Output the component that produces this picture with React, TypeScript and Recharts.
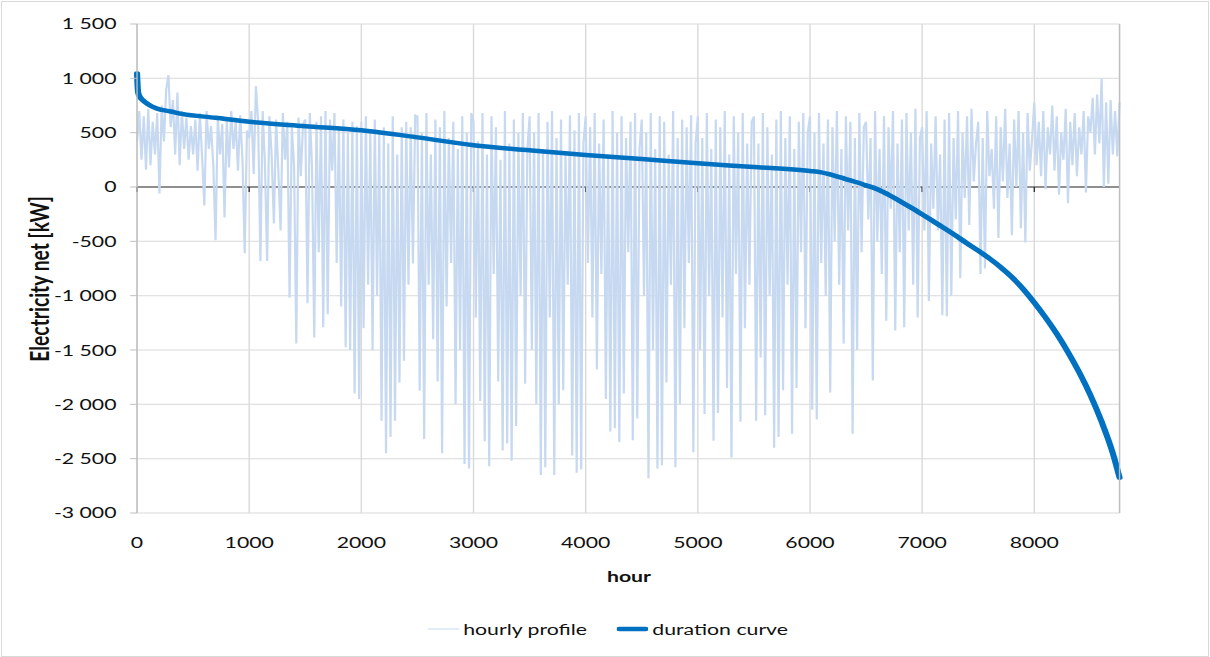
import React from 'react'
import { LineChart, Line, XAxis, YAxis, CartesianGrid, ReferenceLine } from 'recharts'

// the reference is an Excel export stretched sideways, so the chart is drawn narrow and scaled in x
const OUT_W = 1210
const OUT_H = 657
const CHART_W = 883
const STRETCH = OUT_W / CHART_W

const hourStep = 20
const hourMax = 8760

// hourly net electricity, one reading every 20 h
const hourlyProfile = [
  420, 700, 250, 650, 160, 720, 200, 600, 300, 680, -60, 750, 420, 900, 1030, 550, 800, 300, 870, 200, 700, 350, 640, 250, 560,
  300, 620, 150, 680, 280, -170, 700, 350, 560, 200, -490, 640, 300, 580, -280, 620, 180, 700, 350, 600, 150, 660, 250, -610, 520,
  450, 700, 120, 930, 600, -680, 700, 220, -680, 650, 300, -335, 620, 150, -400, 680, 250, 600, -1020, 550, 200, -1440, 640, 100, 580,
  620, -1070, 680, 200, -1385, 600, -600, 650, -1290, 700, -1170, 620, 150, 680, -700, 560, -1100, 620, -1475, 500, -1500, 600, -1900, 560, -1950,
  600, -1300, 650, -900, 500, -1500, 620, -1000, 500, -2150, 550, -2450, 400, -2300, 650, -2150, 300, -1800, 550, -1600, 600, -900, 550, -705, 660,
  650, -1875, 500, -2320, 680, -900, 300, -1400, 620, -1790, 550, -2450, 700, -1100, 450, -700, 600, -2000, 350, -1500, 650, -2550, 500, -2590, 680,
  600, -1200, 420, -1970, 680, -2340, 300, -2570, 650, -800, 550, -1790, 250, -2425, 700, -2360, 400, -2520, 620, -2200, 500, -1000, 680, -1810, 350,
  650, -1500, 500, -2000, 680, -2650, 350, -2580, 600, -1200, 700, -2650, 450, -2000, 620, -1870, 300, -900, 660, -2470, 520, -2630, 680, -2600, 400,
  650, -700, 550, -1200, 680, -1680, 400, -800, 620, -1950, 300, -2250, 700, -2220, 500, -2350, 650, -1900, 450, -600, 600, -2330, 680, -2130, 350,
  620, -1000, 500, -2680, 680, -1500, 350, -2590, 650, -2560, 600, -1800, 300, -900, 700, -2580, 450, -2000, 620, -1300, 550, -700, 660, -2440, 400,
  650, -1500, 450, -2090, 680, -1000, 350, -2335, 620, -2080, 550, -1200, 700, -1850, 300, -2490, 650, -800, 500, -2160, 680, -1300, 400, -900, 600,
  650, -2150, 400, -1570, 680, -2100, 550, -1000, 300, -2400, 620, -2300, 700, -1870, 450, -900, 650, -2270, 350, -1850, 600, -600, 680, -1300, 500,
  650, -2050, 500, -2140, 680, -700, 400, -1000, 620, -1890, 550, -500, 700, -900, 350, -1440, 650, -400, 600, -2270, 450, -1500, 680, -600, 550,
  600, -300, 450, -1780, 700, -500, 350, -800, 650, -1230, 550, -200, 700, -1320, 400, -600, 620, -1290, 680, -400, 500, -900, 720, -1200, 450,
  550, -400, 700, -1050, 400, -200, 650, -400, 300, -1180, 620, -1190, 680, -1000, 450, -300, 700, -840, 500, -100, 650, -350, 720, 50, 400,
  600, -800, 450, -750, 700, 100, 350, -200, 650, -470, 550, 50, 720, -100, 400, -445, 620, 0, 700, -380, 500, -510, 680, 150, 450,
  780, 200, 600, 100, 700, -20, 550, 300, 750, 150, 650, -70, 500, 250, 720, -150, 600, 200, 680, 100, 550, 300, 700, -50, 650,
  500, 820, 300, 850, 400, 1000, 0, 780, 30, 800, 300, 700, 280, 780,
]

// sorted (duration) curve
const durationHours = [
  0, 5, 10, 25, 50, 100, 175, 300, 400, 700, 1000, 1500, 2000, 2500, 3000, 3500, 4000, 4500, 5000, 5500,
  6000, 6100, 6200, 6300, 6400, 6500, 6600, 6700, 6800, 6900, 7000, 7100, 7200, 7300, 7400, 7500, 7600,
  7700, 7800, 7900, 8000, 8100, 8200, 8300, 8400, 8500, 8600, 8700, 8760,
]
const durationValues = [
  1045, 930, 870, 830, 800, 760, 722, 695, 673, 637, 600, 560, 522, 457, 384, 338, 295, 258, 218, 184,
  147, 135, 110, 80, 48, 15, -20, -71, -128, -189, -252, -316, -381, -448, -518, -586, -658,
  -738, -830, -938, -1063, -1201, -1351, -1519, -1705, -1915, -2160, -2450, -2675,
]

const xTicks = [0, 1000, 2000, 3000, 4000, 5000, 6000, 7000, 8000]
const yTicks = [-3000, -2500, -2000, -1500, -1000, -500, 0, 500, 1000, 1500]

const hourlyData = hourlyProfile.map((v, i) => ({ h: i * hourStep, v }))
const durationData = durationHours.map((h, i) => ({ h, v: durationValues[i] }))

const FONT = 'Lato, "Open Sans", sans-serif'
const LIGHT = '#c6d9f1'
const DARK = '#0070c0'

const fmtY = (v: number) => {
  const a = Math.abs(v)
  const s = a >= 1000 ? `${Math.floor(a / 1000)} ${String(a % 1000).padStart(3, '0')}` : String(a)
  return v < 0 ? `-${s}` : s
}

// zero line with the small category ticks hanging under it, like Excel draws the crossing axis
const ZeroLine = (p: any) => {
  const { x1, x2, y1 } = p
  return (
    <g>
      <line x1={x1} y1={y1} x2={x2} y2={y1} stroke="#333" strokeWidth={1} />
      {xTicks.map(t => {
        const x = x1 + ((x2 - x1) * t) / hourMax
        return <line key={t} x1={x} x2={x} y1={y1} y2={y1 + 5} stroke="#333" strokeWidth={1} />
      })}
    </g>
  )
}

const tickStyle = { fontSize: 15.5, fill: '#111', fontFamily: FONT }

export default function App() {
  return (
    <div style={{ position: 'absolute', left: 0, top: 0, width: OUT_W, height: OUT_H, background: '#fff', overflow: 'hidden' }}>
      <div style={{ position: 'absolute', left: 1, top: 1, width: OUT_W - 4, height: OUT_H - 3, border: '1px solid #d9d9d9' }} />
      <div
        style={{
          position: 'absolute',
          left: 0,
          top: 0,
          width: CHART_W,
          height: OUT_H,
          transform: `scaleX(${STRETCH})`,
          transformOrigin: '0 0',
          fontFamily: FONT,
        }}
      >
        <LineChart width={CHART_W} height={OUT_H} margin={{ top: 24, right: 0, bottom: 0, left: 0 }}>
          <CartesianGrid yAxisId="left" stroke="#d9d9d9" strokeWidth={1} />
          <XAxis
            dataKey="h"
            type="number"
            domain={[0, hourMax]}
            ticks={xTicks}
            height={144}
            axisLine={false}
            tickLine={false}
            tickSize={0}
            tickMargin={24}
            tick={tickStyle}
            allowDuplicatedCategory={false}
          />
          <YAxis
            yAxisId="left"
            domain={[-3000, 1500]}
            ticks={yTicks}
            width={100}
            tickFormatter={fmtY}
            tick={tickStyle}
            tickSize={5}
            tickMargin={10}
            axisLine={{ stroke: '#bfbfbf' }}
            tickLine={{ stroke: '#bfbfbf' }}
          />
          <YAxis
            yAxisId="right"
            orientation="right"
            domain={[-3000, 1500]}
            ticks={yTicks}
            width={66}
            tickFormatter={fmtY}
            tick={{ ...tickStyle, textAnchor: 'start' }}
            tickSize={5}
            tickMargin={11}
            axisLine={{ stroke: '#bfbfbf' }}
            tickLine={{ stroke: '#bfbfbf' }}
          />
          <ReferenceLine yAxisId="left" y={0} shape={ZeroLine} />
          <Line
            yAxisId="left"
            data={hourlyData}
            dataKey="v"
            type="linear"
            stroke={LIGHT}
            strokeWidth={1.6}
            dot={false}
            isAnimationActive={false}
          />
          <Line
            yAxisId="left"
            data={durationData}
            dataKey="v"
            type="monotone"
            stroke={DARK}
            strokeWidth={4.5}
            strokeLinecap="round"
            dot={false}
            isAnimationActive={false}
          />
        </LineChart>

        <div
          style={{
            position: 'absolute',
            left: 28,
            top: 279,
            transform: 'translate(-50%, -50%) rotate(-90deg)',
            fontWeight: 700,
            fontSize: 19.3,
            color: '#111',
            whiteSpace: 'nowrap',
          }}
        >
          Electricity net [kW]
        </div>
        <div
          style={{
            position: 'absolute',
            left: 459,
            top: 576,
            transform: 'translate(-50%, -50%)',
            fontWeight: 700,
            fontSize: 15.5,
            color: '#111',
          }}
        >
          hour
        </div>

        <div style={{ position: 'absolute', left: 312, top: 629, transform: 'translateY(-50%)', display: 'flex', alignItems: 'center', fontSize: 15.5, color: '#111', whiteSpace: 'nowrap' }}>
          <svg width={23} height={8}>
            <line x1={0} y1={4} x2={23} y2={4} stroke={LIGHT} strokeWidth={1} />
          </svg>
          <span style={{ marginLeft: 3 }}>hourly profile</span>
        </div>
        <div style={{ position: 'absolute', left: 450, top: 629, transform: 'translateY(-50%)', display: 'flex', alignItems: 'center', fontSize: 15.5, color: '#111', whiteSpace: 'nowrap' }}>
          <svg width={23} height={8}>
            <line x1={2} y1={4} x2={21} y2={4} stroke={DARK} strokeWidth={4.5} strokeLinecap="round" />
          </svg>
          <span style={{ marginLeft: 3 }}>duration curve</span>
        </div>
      </div>
    </div>
  )
}
